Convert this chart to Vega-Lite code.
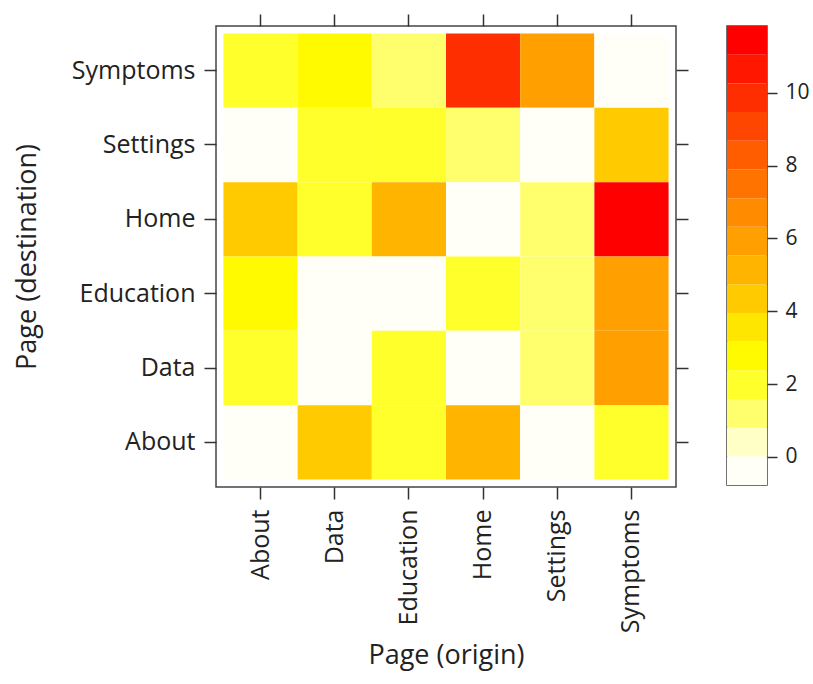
{
  "$schema": "https://vega.github.io/schema/vega-lite/v6.json",
  "background": "white",
  "padding": {"left": 12, "top": 12, "right": 5, "bottom": 8},
  "spacing": 36,
  "config": {
    "font": "Open Sans",
    "view": {"stroke": "#444", "strokeWidth": 1.5},
    "axis": {
      "grid": false,
      "domain": false,
      "tickColor": "#333",
      "tickWidth": 1.5,
      "tickSize": 12,
      "labelColor": "#222",
      "titleColor": "#222",
      "labelFont": "Open Sans",
      "titleFont": "Open Sans",
      "labelFontSize": 25,
      "titleFontSize": 27,
      "titleFontWeight": "normal"
    }
  },
  "datasets": {
    "cells": [
      {"destination": "Symptoms", "origin": "About", "count": 2},
      {"destination": "Symptoms", "origin": "Data", "count": 3},
      {"destination": "Symptoms", "origin": "Education", "count": 1},
      {"destination": "Symptoms", "origin": "Home", "count": 10},
      {"destination": "Symptoms", "origin": "Settings", "count": 6},
      {"destination": "Symptoms", "origin": "Symptoms", "count": 0},
      {"destination": "Settings", "origin": "About", "count": 0},
      {"destination": "Settings", "origin": "Data", "count": 2},
      {"destination": "Settings", "origin": "Education", "count": 2},
      {"destination": "Settings", "origin": "Home", "count": 1},
      {"destination": "Settings", "origin": "Settings", "count": 0},
      {"destination": "Settings", "origin": "Symptoms", "count": 4},
      {"destination": "Home", "origin": "About", "count": 4},
      {"destination": "Home", "origin": "Data", "count": 2},
      {"destination": "Home", "origin": "Education", "count": 5},
      {"destination": "Home", "origin": "Home", "count": 0},
      {"destination": "Home", "origin": "Settings", "count": 1},
      {"destination": "Home", "origin": "Symptoms", "count": 11.5},
      {"destination": "Education", "origin": "About", "count": 3},
      {"destination": "Education", "origin": "Data", "count": 0},
      {"destination": "Education", "origin": "Education", "count": 0},
      {"destination": "Education", "origin": "Home", "count": 2},
      {"destination": "Education", "origin": "Settings", "count": 1},
      {"destination": "Education", "origin": "Symptoms", "count": 6},
      {"destination": "Data", "origin": "About", "count": 2},
      {"destination": "Data", "origin": "Data", "count": 0},
      {"destination": "Data", "origin": "Education", "count": 2},
      {"destination": "Data", "origin": "Home", "count": 0},
      {"destination": "Data", "origin": "Settings", "count": 1},
      {"destination": "Data", "origin": "Symptoms", "count": 6},
      {"destination": "About", "origin": "About", "count": 0},
      {"destination": "About", "origin": "Data", "count": 4},
      {"destination": "About", "origin": "Education", "count": 2},
      {"destination": "About", "origin": "Home", "count": 5},
      {"destination": "About", "origin": "Settings", "count": 0},
      {"destination": "About", "origin": "Symptoms", "count": 2}
    ],
    "bands": [
      {"lo": -0.77, "hi": 0.0175, "mid": -0.376},
      {"lo": 0.0175, "hi": 0.805, "mid": 0.411},
      {"lo": 0.805, "hi": 1.5925, "mid": 1.199},
      {"lo": 1.5925, "hi": 2.38, "mid": 1.986},
      {"lo": 2.38, "hi": 3.1675, "mid": 2.774},
      {"lo": 3.1675, "hi": 3.955, "mid": 3.561},
      {"lo": 3.955, "hi": 4.7425, "mid": 4.349},
      {"lo": 4.7425, "hi": 5.53, "mid": 5.136},
      {"lo": 5.53, "hi": 6.3175, "mid": 5.924},
      {"lo": 6.3175, "hi": 7.105, "mid": 6.711},
      {"lo": 7.105, "hi": 7.8925, "mid": 7.499},
      {"lo": 7.8925, "hi": 8.68, "mid": 8.286},
      {"lo": 8.68, "hi": 9.4675, "mid": 9.074},
      {"lo": 9.4675, "hi": 10.255, "mid": 9.861},
      {"lo": 10.255, "hi": 11.0425, "mid": 10.649},
      {"lo": 11.0425, "hi": 11.83, "mid": 11.436}
    ]
  },
  "hconcat": [
    {
      "width": 460,
      "height": 461,
      "data": {"name": "cells"},
      "layer": [
        {
          "mark": {"type": "rect"},
          "encoding": {
            "x": {
              "field": "origin", "type": "nominal",
              "sort": ["About", "Data", "Education", "Home", "Settings", "Symptoms"],
              "scale": {"paddingInner": 0, "paddingOuter": 0.1},
              "axis": {"orient": "bottom", "title": "Page (origin)", "labelAngle": -90, "labelAlign": "right", "labelBaseline": "middle", "labelPadding": 10, "titlePadding": 10}
            },
            "y": {
              "field": "destination", "type": "nominal",
              "sort": ["Symptoms", "Settings", "Home", "Education", "Data", "About"],
              "scale": {"paddingInner": 0, "paddingOuter": 0.1},
              "axis": {"orient": "left", "title": "Page (destination)", "labelPadding": 9, "titlePadding": 30}
            },
            "color": {
              "field": "count", "type": "quantitative",
              "scale": {
                "type": "threshold",
                "domain": [0.0175, 0.805, 1.5925, 2.38, 3.1675, 3.955, 4.7425, 5.53, 6.3175, 7.105, 7.8925, 8.68, 9.4675, 10.255, 11.0425],
                "range": ["#FFFFF7", "#FFFFC6", "#FFFF6E", "#FFFF2C", "#FFFA00", "#FFE600", "#FFCB00", "#FFB500", "#FFA000", "#FF8B00", "#FF7400", "#FF5D00", "#FF4600", "#FF2E00", "#FF1700", "#FF0000"]
              },
              "legend": null
            }
          }
        },
        {
          "mark": {"type": "rect", "opacity": 0},
          "encoding": {
            "x": {
              "field": "origin", "type": "nominal",
              "sort": ["About", "Data", "Education", "Home", "Settings", "Symptoms"],
              "axis": {"orient": "top", "labels": false, "title": null}
            },
            "y": {
              "field": "destination", "type": "nominal",
              "sort": ["Symptoms", "Settings", "Home", "Education", "Data", "About"],
              "axis": {"orient": "right", "labels": false, "title": null}
            }
          }
        }
      ],
      "resolve": {"axis": {"x": "independent", "y": "independent"}}
    },
    {
      "width": 40,
      "height": 459,
      "data": {"name": "bands"},
      "mark": {"type": "rect"},
      "encoding": {
        "x": {
          "datum": "key", "type": "nominal",
          "scale": {"paddingInner": 0, "paddingOuter": 0},
          "axis": {"orient": "top", "labels": false, "title": null, "tickOpacity": 0, "tickSize": 12}
        },
        "y": {
          "field": "lo", "type": "quantitative",
          "scale": {"domain": [-0.77, 11.83], "nice": false, "zero": false},
          "axis": {"orient": "right", "values": [0, 2, 4, 6, 8, 10], "title": null, "tickSize": 10, "labelFontSize": 21, "labelPadding": 8}
        },
        "y2": {"field": "hi"},
        "color": {
          "field": "mid", "type": "quantitative",
          "scale": {
            "type": "threshold",
            "domain": [0.0175, 0.805, 1.5925, 2.38, 3.1675, 3.955, 4.7425, 5.53, 6.3175, 7.105, 7.8925, 8.68, 9.4675, 10.255, 11.0425],
            "range": ["#FFFFF7", "#FFFFC6", "#FFFF6E", "#FFFF2C", "#FFFA00", "#FFE600", "#FFCB00", "#FFB500", "#FFA000", "#FF8B00", "#FF7400", "#FF5D00", "#FF4600", "#FF2E00", "#FF1700", "#FF0000"]
          },
          "legend": null
        }
      }
    }
  ]
}
